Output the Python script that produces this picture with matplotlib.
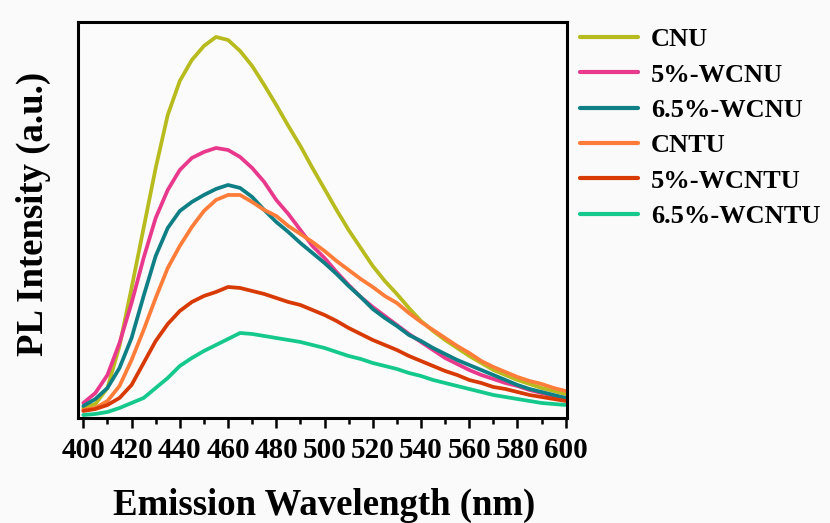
import numpy as np
import matplotlib
matplotlib.use("Agg")
import matplotlib.pyplot as plt
from matplotlib.ticker import MultipleLocator

# Emission wavelength grid (nm)
wavelength = list(range(400, 601, 5))

# PL intensity (a.u.) for each sample
cnu = [10, 14, 30, 72, 130, 190, 250, 303, 337, 358, 372, 381, 378, 367, 352, 333, 313, 292,
       272, 250, 229, 208, 188, 170, 152, 137, 124, 110, 97, 87, 78, 70, 62, 55, 48, 43, 38,
       34, 30, 27, 24]
wcnu_5 = [15, 25, 43, 75, 115, 160, 200, 228, 248, 260, 266, 270, 268, 261, 250, 236, 218, 204,
          188, 172, 160, 146, 133, 121, 111, 102, 93, 84, 76, 68, 60, 54, 48, 43, 39, 35, 32,
          28, 25, 22, 20]
wcnu_65 = [12, 19, 30, 50, 80, 122, 162, 190, 207, 216, 223, 229, 233, 230, 221, 208, 196, 186,
           175, 165, 155, 144, 132, 121, 109, 100, 92, 83, 77, 70, 64, 58, 53, 48, 43, 38, 33,
           29, 26, 23, 20]
cntu = [8, 10, 17, 32, 58, 88, 120, 150, 172, 191, 207, 218, 223, 223, 216, 208, 202, 192,
        184, 176, 167, 157, 148, 139, 131, 122, 115, 105, 96, 88, 80, 72, 65, 57, 51, 46, 41,
        37, 34, 30, 27]
wcntu_5 = [7, 9, 13, 20, 33, 55, 77, 94, 107, 116, 122, 126, 131, 130, 127, 124, 120, 116,
           113, 108, 103, 97, 90, 84, 78, 73, 68, 62, 57, 52, 47, 43, 38, 35, 31, 29, 26,
           23, 21, 19, 17]
wcntu_65 = [3, 4, 6, 10, 15, 20, 30, 40, 52, 60, 67, 73, 79, 85, 84, 82, 80, 78, 76, 73, 70,
            66, 62, 59, 55, 52, 49, 45, 42, 38, 35, 32, 29, 26, 23, 21, 19, 17, 15, 14, 13]

labels = ["CNU", "5%-WCNU", "6.5%-WCNU", "CNTU", "5%-WCNTU", "6.5%-WCNTU"]
series = [cnu, wcnu_5, wcnu_65, cntu, wcntu_5, wcntu_65]
colors = ["#b8bb1e", "#e8398d", "#0f7f86", "#ff7c39", "#d83a04", "#14c98b"]

plt.rcParams["font.family"] = ["Liberation Serif", "DejaVu Serif"]
plt.rcParams["font.weight"] = "bold"

fig = plt.figure(figsize=(8.3, 5.23), dpi=100, facecolor="#fafafa")
ax = fig.add_axes([0.094, 0.2008, 0.589, 0.7572])
ax.set_facecolor("#fbfbfb")

for y, lab, c in zip(series, labels, colors):
    ax.plot(wavelength, y, color=c, lw=2.7, label=lab,
            solid_capstyle="round", solid_joinstyle="round")

ax.set_xlim(397.8, 600.5)
ax.set_ylim(0, 396)
ax.xaxis.set_major_locator(MultipleLocator(20))
ax.xaxis.set_minor_locator(MultipleLocator(10))
ax.set_yticks([])
ax.tick_params(axis="x", which="major", direction="out", length=7, width=1.8,
               labelsize=21, pad=7)
ax.tick_params(axis="x", which="minor", direction="out", length=4.5, width=1.8)
for lbl in ax.get_xticklabels():
    lbl.set_fontweight("bold")
for sp in ax.spines.values():
    sp.set_linewidth(2.2)

fig.text(0.3904, (523 - 515) / 523, "Emission Wavelength (nm)", fontsize=26.5,
         fontweight="bold", ha="center", va="baseline")
fig.text(16 / 830, 1 - 214 / 523, "PL Intensity (a.u.)", fontsize=26.5,
         fontweight="bold", ha="left", va="center", rotation=90)

leg = ax.legend(loc="upper left", bbox_to_anchor=(1.005, 1.012), frameon=False,
                prop={"family": ["Liberation Serif"], "weight": "bold", "size": 19},
                handlelength=2.2, handletextpad=0.5, labelspacing=0.45, borderaxespad=0.0)
for h in leg.get_lines():
    h.set_linewidth(3)

fig.savefig("out.png", dpi=100, facecolor=fig.get_facecolor())
